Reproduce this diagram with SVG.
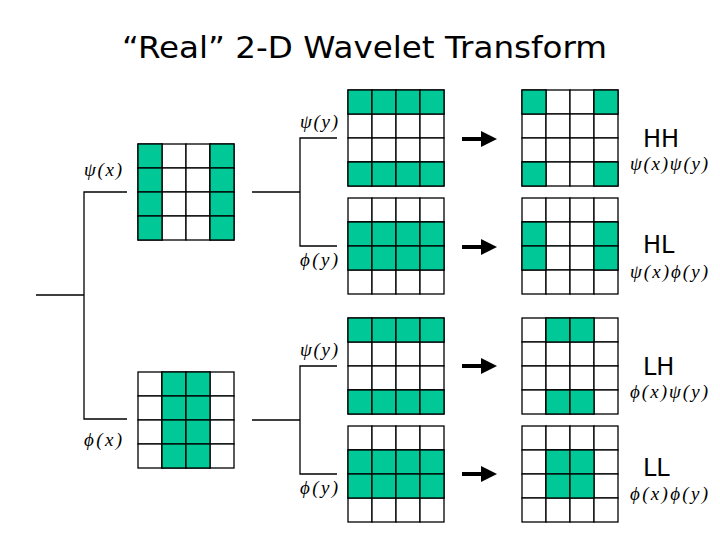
<svg xmlns="http://www.w3.org/2000/svg" width="720" height="540" viewBox="0 0 720 540">
<style>
.c{fill:#fff;stroke:#000;stroke-width:1.3}
.f{fill:#00c896;stroke:#000;stroke-width:1.3}
.l{fill:none;stroke:#000;stroke-width:1.3}
.m{font-family:"Liberation Serif",serif;font-style:italic;font-size:19px}
.t{font-family:"DejaVu Sans",Verdana,sans-serif;font-size:24px}
</style>
<defs>
<marker id="a" markerWidth="4" markerHeight="4" refX="3" refY="2" orient="auto" markerUnits="strokeWidth"><path d="M0,0L4,2L0,4z"/></marker>
<g id="g"><g class="c">
<rect x="0" y="0" width="24" height="24"/><rect x="24" y="0" width="24" height="24"/><rect x="48" y="0" width="24" height="24"/><rect x="72" y="0" width="24" height="24"/>
<rect x="0" y="24" width="24" height="24"/><rect x="24" y="24" width="24" height="24"/><rect x="48" y="24" width="24" height="24"/><rect x="72" y="24" width="24" height="24"/>
<rect x="0" y="48" width="24" height="24"/><rect x="24" y="48" width="24" height="24"/><rect x="48" y="48" width="24" height="24"/><rect x="72" y="48" width="24" height="24"/>
<rect x="0" y="72" width="24" height="24"/><rect x="24" y="72" width="24" height="24"/><rect x="48" y="72" width="24" height="24"/><rect x="72" y="72" width="24" height="24"/>
</g></g>
</defs>
<text x="122" y="58" class="t" style="font-size:30px" textLength="485" lengthAdjust="spacingAndGlyphs">“Real” 2-D Wavelet Transform</text>
<g id="connectors">
<path class="l" d="M36,295H84M127,192H84V419H127M252,192H300M337,138H300V246H337M252,420H300M337,366H300V474H337"/>
<g stroke="#000" stroke-width="4" marker-end="url(#a)"><line x1="462" y1="139" x2="493" y2="139"/><line x1="462" y1="247" x2="493" y2="247"/><line x1="462" y1="366" x2="493" y2="366"/><line x1="462" y1="474" x2="493" y2="474"/></g>
</g>
<g id="psix"><use href="#g" x="138" y="144"/><g class="f"><rect x="138" y="144" width="24" height="24"/><rect x="138" y="168" width="24" height="24"/><rect x="138" y="192" width="24" height="24"/><rect x="138" y="216" width="24" height="24"/><rect x="210" y="144" width="24" height="24"/><rect x="210" y="168" width="24" height="24"/><rect x="210" y="192" width="24" height="24"/><rect x="210" y="216" width="24" height="24"/></g><text class="m" x="84" y="176" textLength="38">ψ(x)</text></g>
<g id="phix"><use href="#g" x="138" y="372"/><g class="f"><rect x="162" y="372" width="24" height="24"/><rect x="162" y="396" width="24" height="24"/><rect x="162" y="420" width="24" height="24"/><rect x="162" y="444" width="24" height="24"/><rect x="186" y="372" width="24" height="24"/><rect x="186" y="396" width="24" height="24"/><rect x="186" y="420" width="24" height="24"/><rect x="186" y="444" width="24" height="24"/></g><text class="m" x="84" y="446" textLength="38">ϕ(x)</text></g>
<g id="hh-in"><use href="#g" x="348" y="90"/><g class="f"><rect x="348" y="90" width="24" height="24"/><rect x="372" y="90" width="24" height="24"/><rect x="396" y="90" width="24" height="24"/><rect x="420" y="90" width="24" height="24"/><rect x="348" y="162" width="24" height="24"/><rect x="372" y="162" width="24" height="24"/><rect x="396" y="162" width="24" height="24"/><rect x="420" y="162" width="24" height="24"/></g><text class="m" x="300" y="128" textLength="38">ψ(y)</text></g>
<g id="hl-in"><use href="#g" x="348" y="198"/><g class="f"><rect x="348" y="222" width="24" height="24"/><rect x="372" y="222" width="24" height="24"/><rect x="396" y="222" width="24" height="24"/><rect x="420" y="222" width="24" height="24"/><rect x="348" y="246" width="24" height="24"/><rect x="372" y="246" width="24" height="24"/><rect x="396" y="246" width="24" height="24"/><rect x="420" y="246" width="24" height="24"/></g><text class="m" x="300" y="266" textLength="38">ϕ(y)</text></g>
<g id="lh-in"><use href="#g" x="348" y="318"/><g class="f"><rect x="348" y="318" width="24" height="24"/><rect x="372" y="318" width="24" height="24"/><rect x="396" y="318" width="24" height="24"/><rect x="420" y="318" width="24" height="24"/><rect x="348" y="390" width="24" height="24"/><rect x="372" y="390" width="24" height="24"/><rect x="396" y="390" width="24" height="24"/><rect x="420" y="390" width="24" height="24"/></g><text class="m" x="300" y="356" textLength="38">ψ(y)</text></g>
<g id="ll-in"><use href="#g" x="348" y="426"/><g class="f"><rect x="348" y="450" width="24" height="24"/><rect x="372" y="450" width="24" height="24"/><rect x="396" y="450" width="24" height="24"/><rect x="420" y="450" width="24" height="24"/><rect x="348" y="474" width="24" height="24"/><rect x="372" y="474" width="24" height="24"/><rect x="396" y="474" width="24" height="24"/><rect x="420" y="474" width="24" height="24"/></g><text class="m" x="300" y="494" textLength="38">ϕ(y)</text></g>
<g id="hh"><use href="#g" x="522" y="90"/><g class="f"><rect x="522" y="90" width="24" height="24"/><rect x="594" y="90" width="24" height="24"/><rect x="522" y="162" width="24" height="24"/><rect x="594" y="162" width="24" height="24"/></g><text class="t" x="643" y="147">HH</text><text class="m" x="630" y="170" textLength="78">ψ(x)ψ(y)</text></g>
<g id="hl"><use href="#g" x="522" y="198"/><g class="f"><rect x="522" y="222" width="24" height="24"/><rect x="594" y="222" width="24" height="24"/><rect x="522" y="246" width="24" height="24"/><rect x="594" y="246" width="24" height="24"/></g><text class="t" x="643" y="253">HL</text><text class="m" x="630" y="278" textLength="78">ψ(x)ϕ(y)</text></g>
<g id="lh"><use href="#g" x="522" y="318"/><g class="f"><rect x="546" y="318" width="24" height="24"/><rect x="570" y="318" width="24" height="24"/><rect x="546" y="390" width="24" height="24"/><rect x="570" y="390" width="24" height="24"/></g><text class="t" x="643" y="375">LH</text><text class="m" x="630" y="398" textLength="78">ϕ(x)ψ(y)</text></g>
<g id="ll"><use href="#g" x="522" y="426"/><g class="f"><rect x="546" y="450" width="24" height="24"/><rect x="570" y="450" width="24" height="24"/><rect x="546" y="474" width="24" height="24"/><rect x="570" y="474" width="24" height="24"/></g><text class="t" x="643" y="476">LL</text><text class="m" x="630" y="500" textLength="78">ϕ(x)ϕ(y)</text></g>
</svg>
